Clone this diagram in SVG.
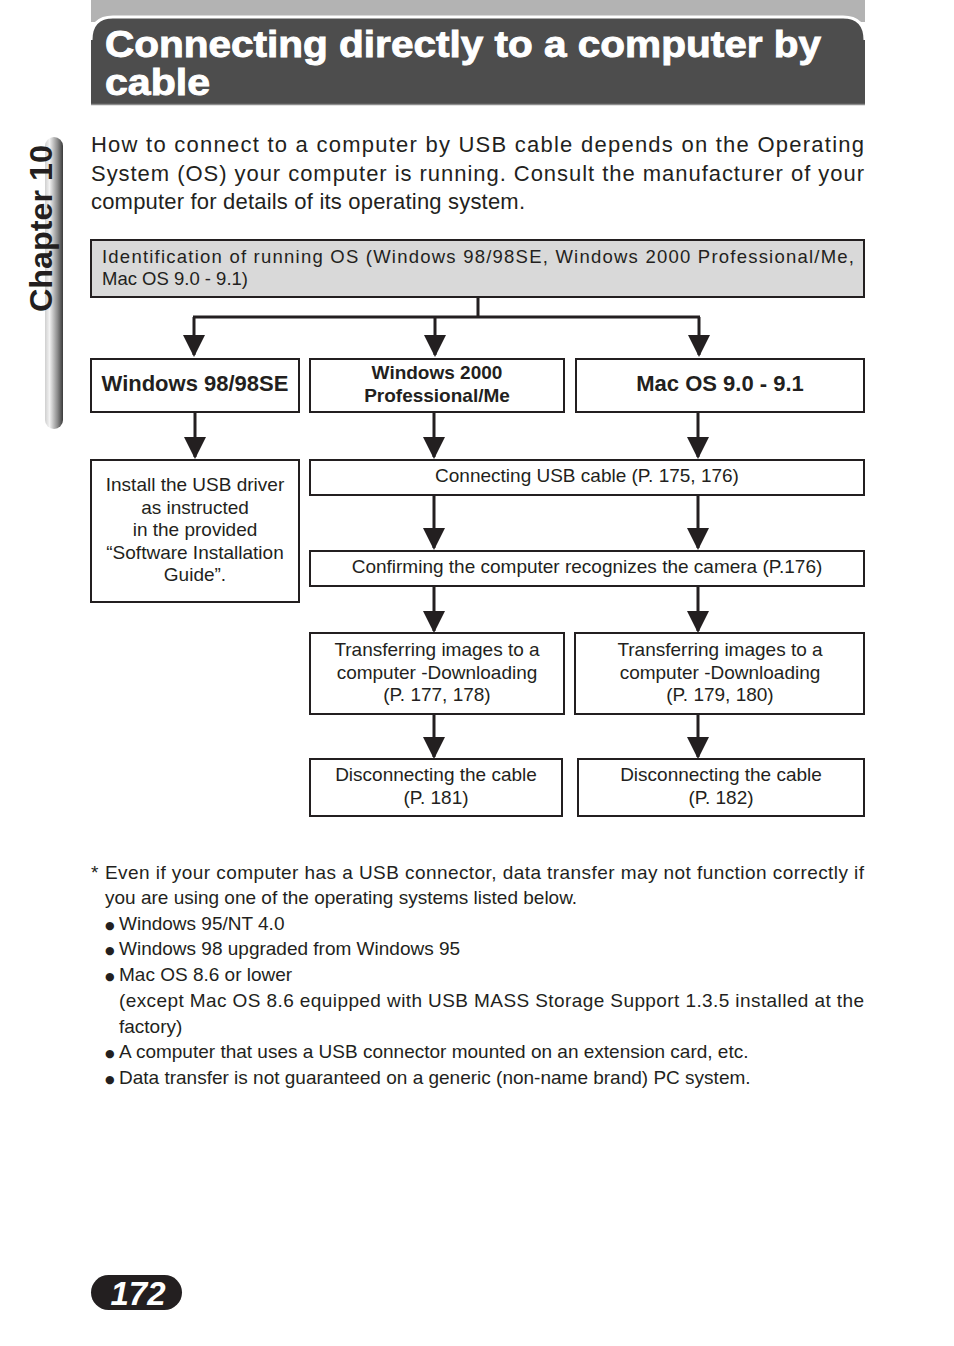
<svg xmlns="http://www.w3.org/2000/svg" width="954" height="1346" viewBox="0 0 954 1346">
<defs>
<linearGradient id="tab" x1="0" y1="0" x2="1" y2="0">
<stop offset="0" stop-color="#cfcfcf"/>
<stop offset="0.25" stop-color="#f2f2f2"/>
<stop offset="0.7" stop-color="#8a8a8a"/>
<stop offset="1" stop-color="#3a3a3a"/>
</linearGradient>
<marker id="ah" markerWidth="22" markerHeight="22" viewBox="0 0 22 22" refX="20" refY="11" orient="auto" markerUnits="userSpaceOnUse">
<path d="M0,0 L22,11 L0,22 Z" fill="#231f20"/>
</marker>
</defs>
<style>
text{font-family:"Liberation Sans",Arial,sans-serif;fill:#231f20}
.body{font-size:19px}
.c{text-anchor:middle}
.b{font-weight:bold}
.box{fill:#fff;stroke:#231f20;stroke-width:2}
.con{fill:none;stroke:#231f20;stroke-width:3}
.ttl{font-size:36px;font-weight:bold;fill:#fff;stroke:#fff;stroke-width:0.9}
.bul{font-size:11px;font-family:"DejaVu Sans",sans-serif}
</style>
<rect width="954" height="1346" fill="#fff"/>

<g id="header">
<rect x="91" y="0" width="774" height="22" fill="#b3b3b3"/>
<path d="M91,104 L91,40 Q91,18 113,18 L843,18 Q865,18 865,40 L865,104 Z" fill="#4d4d4d"/>
<path d="M91,40 Q91,17 113,17 L843,17 Q865,17 865,40" fill="none" stroke="#fff" stroke-width="3"/>
<line x1="91" y1="104.5" x2="865" y2="104.5" stroke="#8c8c8c" stroke-width="1.5"/>
<text class="ttl" x="105" y="57" textLength="716" lengthAdjust="spacingAndGlyphs">Connecting directly to a computer by</text>
<text class="ttl" x="105" y="95" textLength="105" lengthAdjust="spacingAndGlyphs">cable</text>
</g>

<g id="chapter-tab">
<rect x="45" y="137" width="18" height="292" rx="9" fill="url(#tab)"/>
<text transform="translate(52,312) rotate(-90)" font-size="31" font-weight="bold" textLength="167" lengthAdjust="spacingAndGlyphs">Chapter 10</text>
</g>

<g id="intro">
<text x="91" y="152" textLength="773" lengthAdjust="spacing" font-size="22">How to connect to a computer by USB cable depends on the Operating</text>
<text x="91" y="181" textLength="773" lengthAdjust="spacing" font-size="22">System (OS) your computer is running. Consult the manufacturer of your</text>
<text x="91" y="209" textLength="434" lengthAdjust="spacing" font-size="22">computer for details of its operating system.</text>
</g>

<g id="connectors">
<path class="con" d="M478,297 V317 M193,317 H700"/>
<path class="con" d="M194,317 V355" marker-end="url(#ah)"/>
<path class="con" d="M435,317 V355" marker-end="url(#ah)"/>
<path class="con" d="M699,317 V355" marker-end="url(#ah)"/>
<path class="con" d="M195,412 V457" marker-end="url(#ah)"/>
<path class="con" d="M434,412 V457" marker-end="url(#ah)"/>
<path class="con" d="M698,412 V457" marker-end="url(#ah)"/>
<path class="con" d="M434,495 V548" marker-end="url(#ah)"/>
<path class="con" d="M698,495 V548" marker-end="url(#ah)"/>
<path class="con" d="M434,586 V631" marker-end="url(#ah)"/>
<path class="con" d="M698,586 V631" marker-end="url(#ah)"/>
<path class="con" d="M434,714 V757" marker-end="url(#ah)"/>
<path class="con" d="M698,714 V757" marker-end="url(#ah)"/>
</g>

<g id="node-identify">
<rect x="91" y="240" width="773" height="57" fill="#d9d9d9" stroke="#231f20" stroke-width="2"/>
<text x="102" y="263" font-size="18.5" textLength="752" lengthAdjust="spacing">Identification of running OS (Windows 98/98SE, Windows 2000 Professional/Me,</text>
<text x="102" y="285" font-size="18.5">Mac OS 9.0 - 9.1)</text>
</g>

<g id="node-win98">
<rect class="box" x="91" y="359" width="208" height="53"/>
<text class="c b" x="195" y="391" font-size="22">Windows 98/98SE</text>
</g>
<g id="node-win2000">
<rect class="box" x="310" y="359" width="254" height="53"/>
<text class="c b" x="437" y="379" font-size="19">Windows 2000</text>
<text class="c b" x="437" y="402" font-size="19">Professional/Me</text>
</g>
<g id="node-mac">
<rect class="box" x="576" y="359" width="288" height="53"/>
<text class="c b" x="720" y="391" font-size="22">Mac OS 9.0 - 9.1</text>
</g>

<g id="node-install">
<rect class="box" x="91" y="460" width="208" height="142"/>
<text class="body c" x="195" y="491">Install the USB driver</text>
<text class="body c" x="195" y="514">as instructed</text>
<text class="body c" x="195" y="536">in the provided</text>
<text class="body c" x="195" y="559">“Software Installation</text>
<text class="body c" x="195" y="581">Guide”.</text>
</g>

<g id="node-connect">
<rect class="box" x="310" y="460" width="554" height="35"/>
<text class="body c" x="587" y="482">Connecting USB cable (P. 175, 176)</text>
</g>

<g id="node-confirm">
<rect class="box" x="310" y="551" width="554" height="35"/>
<text class="body c" x="587" y="573">Confirming the computer recognizes the camera (P.176)</text>
</g>

<g id="node-transfer-win">
<rect class="box" x="310" y="633" width="254" height="81"/>
<text class="body c" x="437" y="656">Transferring images to a</text>
<text class="body c" x="437" y="679">computer -Downloading</text>
<text class="body c" x="437" y="701">(P. 177, 178)</text>
</g>
<g id="node-transfer-mac">
<rect class="box" x="575" y="633" width="289" height="81"/>
<text class="body c" x="720" y="656">Transferring images to a</text>
<text class="body c" x="720" y="679">computer -Downloading</text>
<text class="body c" x="720" y="701">(P. 179, 180)</text>
</g>

<g id="node-disconnect-win">
<rect class="box" x="310" y="759" width="252" height="57"/>
<text class="body c" x="436" y="781">Disconnecting the cable</text>
<text class="body c" x="436" y="804">(P. 181)</text>
</g>
<g id="node-disconnect-mac">
<rect class="box" x="578" y="759" width="286" height="57"/>
<text class="body c" x="721" y="781">Disconnecting the cable</text>
<text class="body c" x="721" y="804">(P. 182)</text>
</g>

<g id="notes">
<text class="body" x="91" y="879">*</text>
<text class="body" x="105" y="879" textLength="759" lengthAdjust="spacing">Even if your computer has a USB connector, data transfer may not function correctly if</text>
<text class="body" x="105" y="904">you are using one of the operating systems listed below.</text>
<text class="bul" x="105" y="929">●</text>
<text class="body" x="119" y="930">Windows 95/NT 4.0</text>
<text class="bul" x="105" y="954">●</text>
<text class="body" x="119" y="955">Windows 98 upgraded from Windows 95</text>
<text class="bul" x="105" y="980">●</text>
<text class="body" x="119" y="981">Mac OS 8.6 or lower</text>
<text class="body" x="119" y="1007" textLength="745" lengthAdjust="spacing">(except Mac OS 8.6 equipped with USB MASS Storage Support 1.3.5 installed at the</text>
<text class="body" x="119" y="1033">factory)</text>
<text class="bul" x="105" y="1057">●</text>
<text class="body" x="119" y="1058">A computer that uses a USB connector mounted on an extension card, etc.</text>
<text class="bul" x="105" y="1083">●</text>
<text class="body" x="119" y="1084">Data transfer is not guaranteed on a generic (non-name brand) PC system.</text>
</g>

<g id="page-number">
<rect x="91" y="1275" width="91" height="35" rx="17.5" fill="#231f20"/>
<text x="138" y="1305" font-size="33" font-weight="bold" font-style="italic" text-anchor="middle" style="fill:#fff">172</text>
</g>
</svg>
